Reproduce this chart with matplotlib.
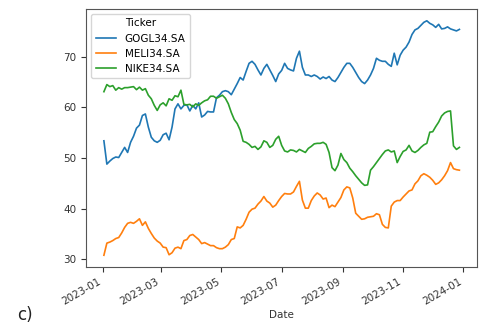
import pandas as pd
import matplotlib
matplotlib.use("Agg")
import matplotlib.pyplot as plt
import matplotlib.dates as mdates

# closing prices sampled every 3 days through 2023
dates = pd.date_range("2023-01-02", periods=121, freq="3D")
tickers = ["GOGL34.SA", "MELI34.SA", "NIKE34.SA"]

gogl = [53.4, 48.8, 49.4, 49.9, 50.2, 50.1, 51.1, 52.1, 51.1, 53.1,
        54.3, 55.9, 56.5, 58.4, 58.7, 56.1, 54.1, 53.4, 53.1, 53.5,
        54.6, 54.9, 53.6, 56.1, 59.7, 60.7, 59.7, 60.4, 60.5, 59.3,
        60.4, 59.7, 60.9, 58.1, 58.5, 59.2, 59.1, 59.1, 61.9, 62.4,
        63.1, 63.3, 63.1, 62.5, 63.6, 64.7, 65.9, 65.4, 67.1, 68.7,
        69.1, 68.5, 67.4, 66.4, 67.7, 68.5, 67.4, 66.3, 65.1, 66.6,
        67.3, 68.7, 67.7, 67.4, 67.2, 69.7, 71.1, 67.9, 66.4, 66.4,
        66.1, 66.4, 66.1, 65.6, 66.0, 65.7, 66.1, 65.4, 65.1, 65.9,
        66.9, 67.9, 68.7, 68.7, 67.9, 66.9, 65.9, 65.1, 64.7, 65.4,
        66.4, 67.7, 69.7, 69.3, 69.1, 69.1, 68.5, 68.1, 70.7, 68.4,
        70.3, 71.3, 71.9, 72.9, 74.4, 75.3, 75.6, 76.2, 76.8, 77.1,
        76.6, 76.3, 75.8, 76.4, 75.5, 75.6, 75.9, 75.5, 75.3, 75.1,
        75.4]

meli = [30.8, 33.2, 33.4, 33.7, 34.1, 34.3, 35.2, 36.3, 37.1, 37.3,
        37.1, 37.5, 38.0, 36.7, 37.4, 36.1, 35.1, 34.2, 33.6, 33.2,
        32.4, 32.3, 30.9, 31.3, 32.2, 32.4, 32.1, 33.7, 33.9, 34.7,
        34.9, 34.4, 33.9, 33.1, 33.3, 33.0, 32.7, 32.7, 32.3, 32.1,
        32.1, 32.4, 32.9, 33.9, 34.1, 36.4, 36.2, 36.7, 37.9, 39.3,
        39.9, 40.1, 40.9, 41.5, 42.4, 41.5, 41.1, 40.3, 40.7, 41.6,
        42.4, 43.0, 42.9, 42.9, 43.3, 44.4, 45.4, 41.7, 40.1, 40.1,
        41.6, 42.5, 43.1, 42.7, 41.9, 42.1, 40.2, 40.7, 40.4, 41.3,
        42.2, 43.7, 44.3, 44.1, 42.1, 39.1, 38.5, 37.9, 38.0, 38.3,
        38.4, 38.5, 39.0, 38.8, 36.9, 36.3, 36.2, 40.5, 41.3, 41.6,
        41.6, 42.3, 42.9, 43.5, 43.7, 44.9, 45.5, 46.5, 46.9, 46.6,
        46.2, 45.6, 44.8, 45.1, 45.7, 46.5, 47.5, 49.1, 47.9, 47.7,
        47.6]

nike = [63.1, 64.5, 64.1, 64.3, 63.4, 63.9, 63.6, 63.9, 63.9, 64.0,
        64.1, 63.5, 64.0, 63.4, 63.7, 62.4, 61.7, 60.4, 59.4, 60.5,
        60.9, 60.3, 61.7, 61.4, 62.3, 62.1, 63.4, 60.6, 60.5, 60.6,
        60.1, 60.7, 60.4, 60.9, 61.3, 61.5, 62.2, 62.2, 61.8, 62.1,
        62.4, 61.8, 60.7, 59.0, 57.6, 56.8, 55.5, 53.3, 53.1, 52.7,
        52.1, 52.3, 51.7, 52.2, 53.4, 53.1, 52.1, 52.5, 53.7, 54.3,
        52.5, 51.4, 51.2, 51.6, 51.5, 51.2, 51.7, 51.4, 51.1, 51.9,
        52.3, 52.8, 52.9, 52.9, 53.1, 52.7, 51.1, 48.1, 47.5, 48.6,
        50.9, 49.7, 49.1, 48.0, 47.3, 46.5, 45.8, 45.1, 44.6, 44.7,
        47.6, 48.3, 49.1, 49.9, 50.7, 51.4, 51.6, 51.2, 51.4, 49.1,
        50.3, 51.3, 51.6, 52.5, 51.4, 51.1, 51.5, 52.1, 52.6, 52.9,
        55.1, 55.2, 56.2, 57.1, 58.3, 58.9, 59.2, 59.3, 52.4, 51.7,
        52.1]

fig = plt.figure(figsize=(4.95, 3.24), dpi=100)
ax = fig.add_axes([0.174, 0.176, 0.790, 0.796])

for name, values in zip(tickers, [gogl, meli, nike]):
    ax.plot(dates, values, lw=1.2, label=name)

ax.xaxis.set_major_locator(mdates.MonthLocator(bymonth=[1, 3, 5, 7, 9, 11]))
ax.xaxis.set_major_formatter(mdates.DateFormatter("%Y-%m"))
for lbl in ax.get_xticklabels():
    lbl.set_rotation(30)
    lbl.set_horizontalalignment("right")
ax.tick_params(labelsize=7.5, colors="#333333")
for sp in ax.spines.values():
    sp.set_color("#555555")

ax.set_yticks([30, 40, 50, 60, 70])
ax.set_xlabel("Date", fontsize=7.5, color="#333333", labelpad=2)

leg = ax.legend(title="Ticker", loc="upper left", fontsize=7.5, title_fontsize=7.5)

fig.text(0.035, 0.055, "c)", fontsize=12, va="top", color="#222222")

fig.savefig("out.png", dpi=100)
